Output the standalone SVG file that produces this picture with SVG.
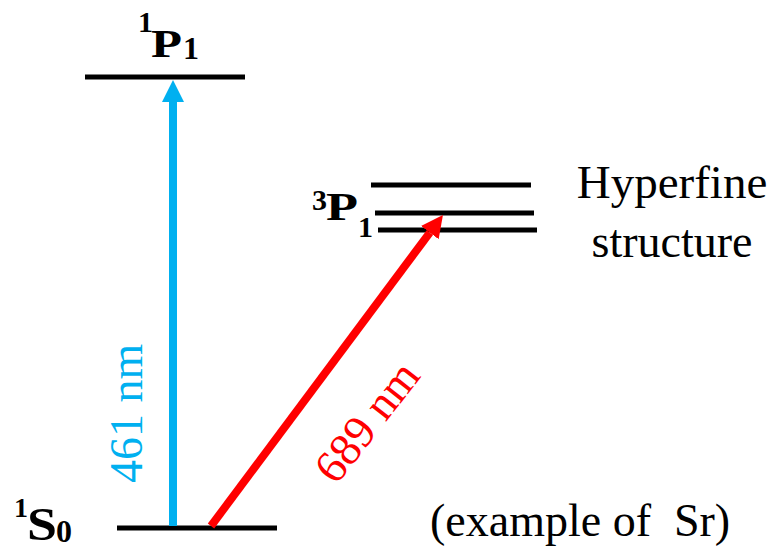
<svg xmlns="http://www.w3.org/2000/svg" width="779" height="546" viewBox="0 0 779 546">
<style>
.lvl{stroke:#000;stroke-width:5;fill:none}
.lbl{font-family:"Liberation Serif","Times New Roman",serif;font-weight:bold;fill:#000}
.txt{font-family:"Liberation Serif","Times New Roman",serif;fill:#000}
</style>
<defs>
<marker id="hb" markerUnits="userSpaceOnUse" markerWidth="24" markerHeight="24" refX="0" refY="11" orient="auto"><path d="M0,0 L22,11 L0,22 z" fill="#00B0F0"/></marker>
<marker id="hr" markerUnits="userSpaceOnUse" markerWidth="24" markerHeight="24" refX="0" refY="11" orient="auto"><path d="M0,0 L22,11 L0,22 z" fill="#FF0000"/></marker>
</defs>
<rect width="779" height="546" fill="#fff"/>
<g id="level-1P1">
<line class="lvl" x1="85" y1="77" x2="245" y2="77"/>
<text class="lbl" x="138" y="32" font-size="30">1</text>
<text class="lbl" x="151" y="57" font-size="40" textLength="31" lengthAdjust="spacingAndGlyphs">P</text>
<text class="lbl" x="183" y="59" font-size="32">1</text>
</g>
<g id="level-3P1">
<line class="lvl" x1="371" y1="185" x2="531" y2="185"/>
<line class="lvl" x1="375" y1="213" x2="534" y2="213"/>
<line class="lvl" x1="378" y1="230" x2="537" y2="230"/>
<text class="lbl" x="312" y="210" font-size="30">3</text>
<text class="lbl" x="326" y="220" font-size="41" textLength="32" lengthAdjust="spacingAndGlyphs">P</text>
<text class="lbl" x="358" y="237" font-size="30">1</text>
</g>
<g id="level-1S0">
<line class="lvl" x1="117" y1="528" x2="277" y2="528"/>
<text class="lbl" x="14" y="517" font-size="28">1</text>
<text class="lbl" x="27" y="540" font-size="47" textLength="30" lengthAdjust="spacingAndGlyphs">S</text>
<text class="lbl" x="56" y="542" font-size="32">0</text>
</g>
<g id="hyperfine-label">
<text class="txt" x="672" y="198" font-size="47" text-anchor="middle">Hyperfine</text>
<text class="txt" x="672" y="257" font-size="46" text-anchor="middle">structure</text>
</g>
<g id="example-label">
<text class="txt" x="430" y="536" font-size="46" xml:space="preserve">(example of  Sr)</text>
</g>
<g id="connectors">
<line x1="173" y1="526" x2="173" y2="102" stroke="#00B0F0" stroke-width="8" marker-end="url(#hb)"/>
<line x1="211" y1="526" x2="429.8" y2="232.6" stroke="#FF0000" stroke-width="8" marker-end="url(#hr)"/>
<text x="0" y="0" font-size="46" fill="#00B0F0" font-family="Liberation Serif, Times New Roman, serif" transform="translate(142,483) rotate(-90)">461 nm</text>
<text x="0" y="0" font-size="46" fill="#FF0000" font-family="Liberation Serif, Times New Roman, serif" transform="translate(336,486) rotate(-52)">689 nm</text>
</g>
</svg>
